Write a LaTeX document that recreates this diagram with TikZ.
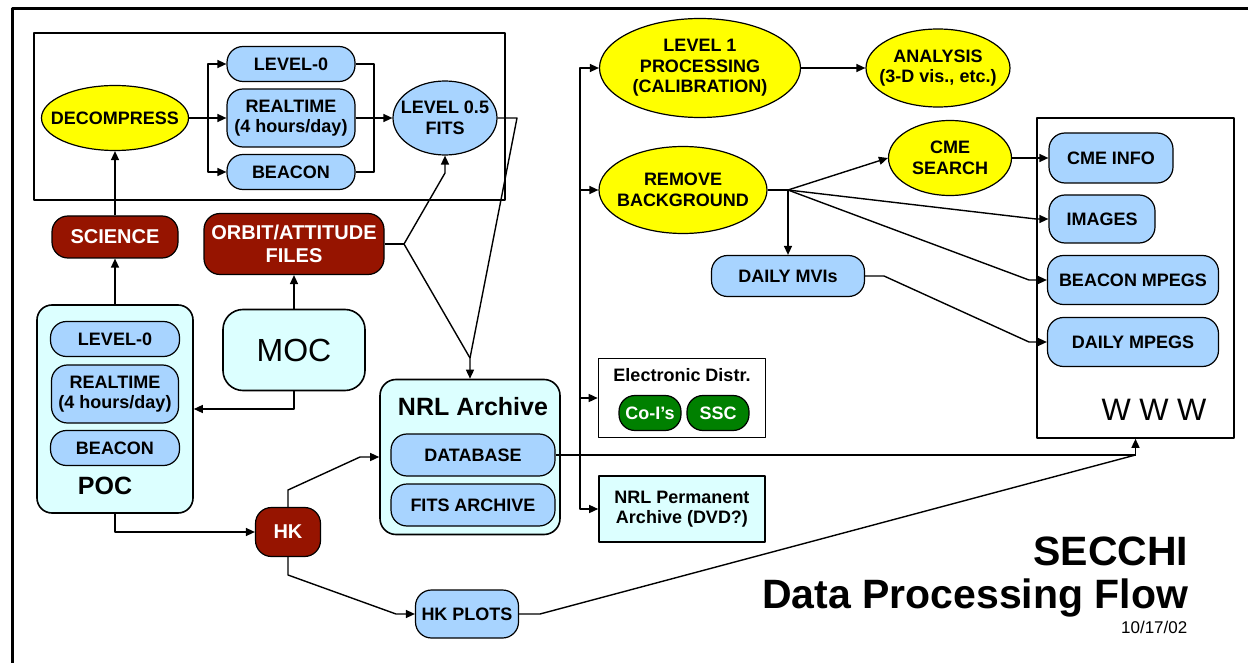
\documentclass[tikz,border=0pt]{standalone}
\usepackage{fontspec}
\setmainfont{Liberation Sans}
\usetikzlibrary{shapes.geometric,arrows.meta}
\definecolor{yel}{RGB}{255,255,0}
\definecolor{pillblue}{RGB}{168,212,255}
\definecolor{pale}{RGB}{220,255,255}
\definecolor{brick}{RGB}{150,20,0}
\definecolor{leaf}{RGB}{0,128,0}
\begin{document}
\begin{tikzpicture}[x=1pt,y=-1pt,>={Triangle[length=9pt,width=8pt]},line join=round,line width=1.4pt,
	lbl/.style={font=\fontsize{18}{20.5}\selectfont\bfseries,align=center,inner sep=0pt},
	ell/.style 2 args={ellipse,draw,line width=1.2pt,fill=yel,inner sep=0pt,minimum width=#1pt,minimum height=#2pt},
	pill/.style 2 args={rounded corners=16pt,draw,line width=1.2pt,fill=pillblue,minimum width=#1pt,minimum height=#2pt,lbl},
	brk/.style 2 args={rounded corners=16pt,draw,line width=1.2pt,fill=brick,text=white,minimum width=#1pt,minimum height=#2pt,lbl,font=\fontsize{20}{23}\selectfont\bfseries},
	grn/.style={rounded corners=16pt,draw,line width=1.2pt,fill=leaf,text=white,minimum width=62pt,minimum height=35pt,lbl},
	box/.style 2 args={draw,line width=1.6pt,minimum width=#1pt,minimum height=#2pt,inner sep=0pt},
	big/.style={font=\fontsize{25}{30}\selectfont\bfseries,inner sep=0pt}]
	\useasboundingbox (0,0) rectangle (1248,663);
	\draw[line width=3pt] (12,663) -- (12,9) -- (1248,9);
	\draw[line width=2pt] (34,33) rectangle (505,200);
	% spacecraft side
	\node[ell={147}{65},label={[lbl]center:DECOMPRESS}] (decomp) at (115,118) {};
	\node[pill={128}{35}] (l0a) at (291,64) {LEVEL-0};
	\node[pill={128}{58}] (rta) at (291,118) {REALTIME\\(4 hours/day)};
	\node[pill={128}{35}] (bca) at (291,172) {BEACON};
	\node[ell={104}{74},fill=pillblue,label={[lbl]center:{LEVEL 0.5\\FITS}}] (fits) at (445,118) {};
	\node[brk={126}{42}] (sci) at (115,237) {SCIENCE};
	\node[brk={180}{61}] (orb) at (294,244) {ORBIT/ATTITUDE\\FILES};
	\node[box={156}{208},fill=pale,rounded corners=15pt] (poc) at (115,409) {};
	\node[big] (poctxt) at (105,486) {POC};
	\node[pill={129}{35}] (l0b) at (115,339) {LEVEL-0};
	\node[pill={127}{58}] (rtb) at (115,394) {REALTIME\\(4 hours/day)};
	\node[pill={129}{35}] (bcb) at (115,448) {BEACON};
	\node[box={142}{81},fill=pale,rounded corners=20pt,font=\fontsize{32}{36}\selectfont] (moc) at (294,350) {MOC};
	\node[box={180}{155},fill=pale,rounded corners=16pt] (nrl) at (470,457) {};
	\node[big] (nrltxt) at (473,407) {NRL Archive};
	\node[pill={164}{42}] (db) at (473,455) {DATABASE};
	\node[pill={164}{42}] (fa) at (473,505) {FITS ARCHIVE};
	\node[brk={65}{49}] (hk) at (288,532) {HK};
	\node[pill={103}{48}] (hkp) at (467,614) {HK PLOTS};
	% ground processing
	\node[ell={201}{99},label={[lbl]center:{LEVEL 1\\PROCESSING\\(CALIBRATION)}}] (lvl1) at (700,68) {};
	\node[ell={144}{78},label={[lbl]center:{ANALYSIS\\(3-D vis., etc.)}}] (ana) at (938,68) {};
	\node[ell={168}{87},label={[lbl]center:{REMOVE\\BACKGROUND}}] (rmbg) at (683,190) {};
	\node[ell={123}{75},label={[lbl]center:{CME\\SEARCH}}] (cme) at (950,158) {};
	\node[pill={153}{41}] (mvi) at (788,276) {DAILY MVIs};
	\node[box={197}{320}] (www) at (1135.5,278) {};
	\node[pill={124}{50}] (cmei) at (1111,158) {CME INFO};
	\node[pill={106}{48}] (img) at (1102,219) {IMAGES};
	\node[pill={171}{49}] (bmp) at (1133,280) {BEACON MPEGS};
	\node[pill={171}{49}] (dmp) at (1133,342) {DAILY MPEGS};
	\node[font=\fontsize{31}{36}\selectfont,inner sep=0pt] (wwwtxt) at (1154,410) {W W W};
	\node[box={167}{79}] (elec) at (682,398) {};
	\node[lbl] (electxt) at (682,375) {Electronic Distr.};
	\node[grn] (coi) at (650,413) {Co-I's};
	\node[grn] (ssc) at (718,413) {SSC};
	\node[box={166}{66},fill=pale,lbl] (perm) at (682,509) {NRL Permanent\\Archive (DVD?)};
	\node[anchor=base east,font=\fontsize{41}{48}\selectfont\bfseries,inner sep=0pt] (ttl) at (1189,565) {SECCHI};
	\node[anchor=base east,font=\fontsize{41}{48}\selectfont\bfseries,inner sep=0pt] (sub) at (1189,608) {Data Processing Flow};
	\node[anchor=base east,font=\fontsize{17}{20}\selectfont,inner sep=0pt] (date) at (1188,633) {10/17/02};
	\path
	(208,118) coordinate (br)
	(374,118) coordinate (mg)
	(404,244) coordinate (oj)
	(470,358) coordinate (nj)
	(580,455) coordinate (dj)
	(788,190) coordinate (rj)
	(1135.5,455) coordinate (wj)
	;
	\draw (decomp.east) -- (br);
	\foreach \n in {l0a,bca} \draw[->] (br) |- (\n.west);
	\draw[->] (br) -- (rta.west);
	\draw (l0a.east) -| (mg) |- (bca.east);
	\draw[->] (rta.east) -- (fits.west);
	\draw[->] (sci.north) -- (decomp.south);
	\draw[->] (poc.north) -- (sci.south);
	\draw[->] (moc.north) -- (orb.south);
	\draw[->] (moc.south) |- (poc.east);
	\draw (orb.east) -- (oj);
	\draw[->] (oj) -- (445,173) -- (fits.south);
	\draw[->] (oj) -- (nj) -- (nrl.north);
	\draw (fits.east) -- (517,118) -- (nj);
	\draw[->] (poc.south) |- (hk.west);
	\draw[->] (hk.north) -- (288,490) -- (360,457) -- (nrl.west);
	\draw[->] (hk.south) -- (288,575) -- (396,614) -- (hkp.west);
	\draw (hkp.east) -- (540,614) -- (wj);
	\draw (db.east) -- (wj);
	\draw[->] (wj) -- (www.south);
	\foreach \n in {lvl1,rmbg,elec,perm} \draw[->] (dj) |- (\n.west);
	\draw[->] (lvl1.east) -- (ana.west);
	\draw (rmbg.east) -- (rj);
	\draw[->] (rj) -- (cme.west);
	\draw[->] (rj) -- (mvi.north);
	\draw[->] (rj) -- (1036,219) -- (img.west);
	\draw[->] (rj) -- (1029,280) -- (bmp.west);
	\draw[->] (cme.east) -- (cmei.west);
	\draw[->] (mvi.east) -- (884,276) -- (1029,342) -- (dmp.west);
\end{tikzpicture}
\end{document}
